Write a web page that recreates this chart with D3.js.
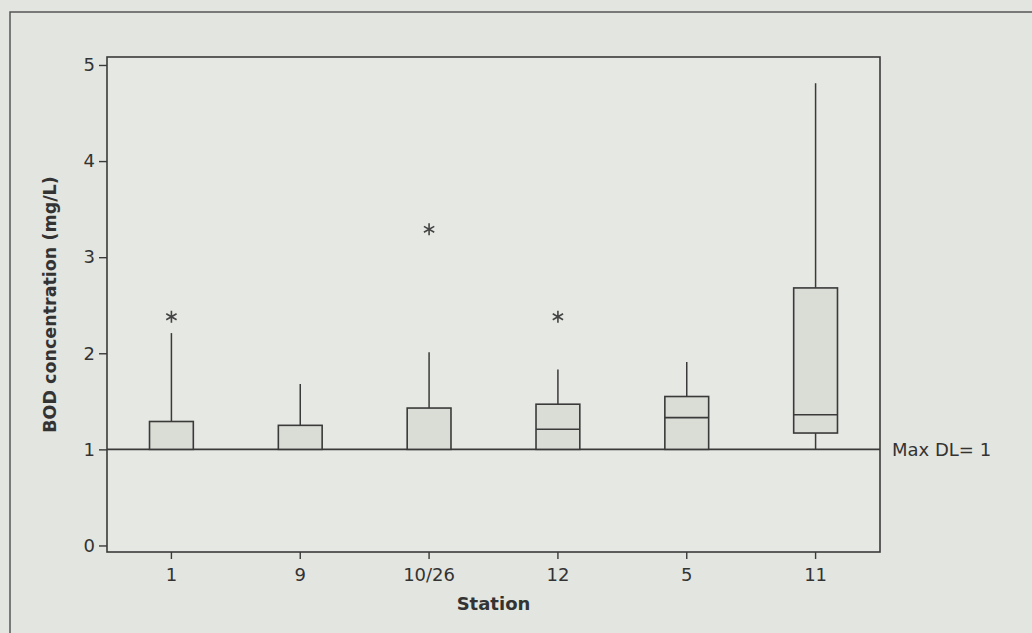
<!DOCTYPE html>
<html>
<head>
<meta charset="utf-8">
<script src="https://cdn.jsdelivr.net/npm/d3@7"></script>
<style>
  html, body { margin: 0; padding: 0; background: #e3e5e0; }
  svg { display: block; }
  text { font-family: "DejaVu Sans", Verdana, sans-serif; fill: #333; }
</style>
</head>
<body>
<script>
// ---- data ----
const stations = ["1", "9", "10/26", "12", "5", "11"];
const q1Values      = [1.00, 1.00, 1.00, 1.00, 1.00, 1.17];
const medianValues  = [1.00, 1.00, 1.00, 1.21, 1.33, 1.36];
const q3Values      = [1.29, 1.25, 1.43, 1.47, 1.55, 2.68];
const whiskerLow    = [1.00, 1.00, 1.00, 1.00, 1.00, 1.00];
const whiskerHigh   = [2.21, 1.68, 2.01, 1.83, 1.91, 4.81];
const outlierStation = ["1", "10/26", "12"];
const outlierValues  = [2.38, 3.29, 2.38];
const yTicks = [0, 1, 2, 3, 4, 5];
const refValue = 1;
const refLabel = "Max DL= 1";
const xTitle = "Station";
const yTitle = "BOD concentration (mg/L)";

// ---- layout ----
const W = 1032, H = 633;
const plot = { left: 107, right: 880, top: 57, bottom: 552 };
const ink = "#3a3a3a";

const svg = d3.select("body").append("svg").attr("width", W).attr("height", H);

// outer frame (left and top edges visible)
svg.append("path")
  .attr("d", `M10,${H + 5}V12H${W + 5}`)
  .attr("fill", "none").attr("stroke", "#555").attr("stroke-width", 1.5);

const x = d3.scaleBand().domain(stations).range([plot.left, plot.right]).padding(0);
const y = d3.scaleLinear().domain([-0.068, 5.083]).range([plot.bottom, plot.top]);

// plot area
svg.append("rect")
  .attr("x", plot.left).attr("y", plot.top)
  .attr("width", plot.right - plot.left).attr("height", plot.bottom - plot.top)
  .attr("fill", "#e6e8e3").attr("stroke", ink).attr("stroke-width", 1.6);

// axes
const xAxis = svg.append("g").attr("transform", `translate(0,${plot.bottom})`)
  .call(d3.axisBottom(x).tickSizeOuter(0).tickSize(7).tickPadding(9));
const yAxis = svg.append("g").attr("transform", `translate(${plot.left},0)`)
  .call(d3.axisLeft(y).tickValues(yTicks).tickFormat(d3.format("d")).tickSizeOuter(0).tickSize(8).tickPadding(4));
[xAxis, yAxis].forEach(g => {
  g.select(".domain").remove();
  g.selectAll(".tick line").attr("stroke", ink).attr("stroke-width", 1.4);
  g.selectAll(".tick text").attr("font-size", 18).attr("fill", "#333")
    .attr("font-family", "'DejaVu Sans', Verdana, sans-serif");
});

// reference line
svg.append("line")
  .attr("x1", plot.left).attr("x2", plot.right)
  .attr("y1", y(refValue)).attr("y2", y(refValue))
  .attr("stroke", ink).attr("stroke-width", 1.6);
svg.append("text")
  .attr("x", plot.right + 12).attr("y", y(refValue) + 7)
  .attr("font-size", 18).text(refLabel);

// boxes
const boxW = x.bandwidth() * 0.34;
const data = stations.map((s, i) => ({
  s, q1: q1Values[i], med: medianValues[i], q3: q3Values[i],
  lo: whiskerLow[i], hi: whiskerHigh[i]
}));
const g = svg.append("g");
data.forEach(d => {
  const cx = x(d.s) + x.bandwidth() / 2;
  g.append("line").attr("x1", cx).attr("x2", cx).attr("y1", y(d.q3)).attr("y2", y(d.hi))
    .attr("stroke", ink).attr("stroke-width", 1.5);
  if (d.lo < d.q1) {
    g.append("line").attr("x1", cx).attr("x2", cx).attr("y1", y(d.q1)).attr("y2", y(d.lo))
      .attr("stroke", ink).attr("stroke-width", 1.5);
  }
  g.append("rect")
    .attr("x", cx - boxW / 2).attr("y", y(d.q3))
    .attr("width", boxW).attr("height", y(d.q1) - y(d.q3))
    .attr("fill", "#dadcd6").attr("stroke", ink).attr("stroke-width", 1.6);
  if (d.med > d.q1) {
    g.append("line").attr("x1", cx - boxW / 2).attr("x2", cx + boxW / 2)
      .attr("y1", y(d.med)).attr("y2", y(d.med))
      .attr("stroke", ink).attr("stroke-width", 1.6);
  }
});

// outliers
const sym = d3.symbol().type(d3.symbolAsterisk).size(100);
outlierStation.forEach((s, i) => {
  svg.append("path").attr("d", sym())
    .attr("transform", `translate(${x(s) + x.bandwidth() / 2},${y(outlierValues[i])})`)
    .attr("fill", "none").attr("stroke", "#444").attr("stroke-width", 1.6);
});

// axis titles
svg.append("text")
  .attr("x", (plot.left + plot.right) / 2).attr("y", 610)
  .attr("text-anchor", "middle").attr("font-size", 18).attr("font-weight", "bold")
  .text(xTitle);
svg.append("text")
  .attr("transform", `translate(56,${(plot.top + plot.bottom) / 2}) rotate(-90)`)
  .attr("text-anchor", "middle").attr("font-size", 17.5).attr("font-weight", "bold")
  .text(yTitle);
</script>
</body>
</html>
